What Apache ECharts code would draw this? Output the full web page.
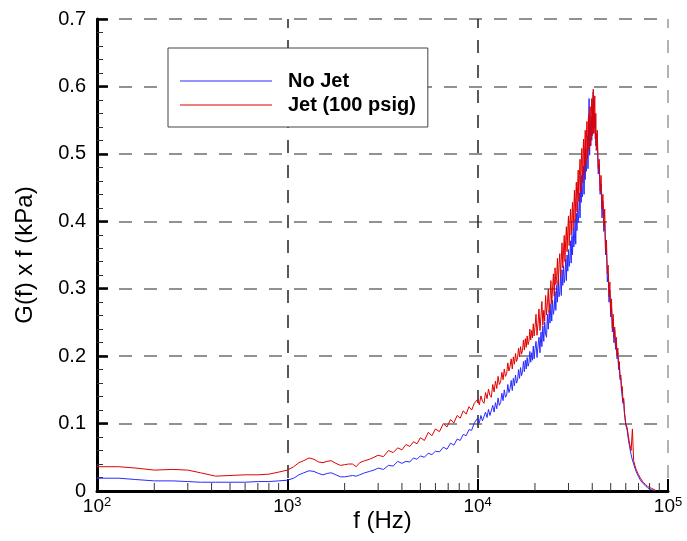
<!DOCTYPE html>
<html>
<head>
<meta charset="utf-8">
<script src="https://cdn.jsdelivr.net/npm/echarts@6/dist/echarts.min.js"></script>
<style>
  html, body { margin: 0; padding: 0; background: #ffffff; }
  #chart { width: 687px; height: 541px; }
</style>
</head>
<body>
<div id="chart"></div>
<script>
// Pressure spectrum, premultiplied by frequency: G(f) x f in kPa
const freqHz = [
  100, 130, 160, 200, 250, 300, 350, 420, 500, 600, 700, 800, 900, 1000,
  1080, 1150, 1220, 1300, 1380, 1460, 1540, 1620, 1700, 1800, 1900, 2000, 2100, 2200, 2300, 2400, 2550, 2700, 2850,
  3000, 3200, 3400, 3600, 3800, 4000, 4200, 4400, 4600, 4800, 5000, 5250, 5500, 5750, 6000, 6300, 6600, 6900,
  7200, 7500, 7800, 8100, 8400, 8700, 9000, 9300, 9600,
  10000, 10200, 10400, 10600, 10800, 11000, 11200, 11400, 11600, 11800, 12000, 12200, 12400, 12600, 12800,
  13000, 13200, 13400, 13600, 13800, 14000, 14200, 14400, 14600, 14800, 15000, 15200, 15400, 15600, 15800,
  16000, 16200, 16400, 16600, 16800, 17000, 17200, 17400, 17600, 17800, 18000, 18200, 18400, 18600, 18800,
  19000, 19200, 19400, 19600, 19800, 20000,
  20250, 20500, 20750, 21000, 21250, 21500, 21750, 22000, 22250, 22500, 22750, 23000,
  23250, 23500, 23750, 24000, 24250, 24500, 24750, 25000, 25250, 25500, 25750, 26000,
  26250, 26500, 26750, 27000, 27250, 27500, 27750, 28000, 28250, 28500, 28750, 29000,
  29250, 29500, 29750, 30000, 30250, 30500, 30750, 31000, 31250, 31500, 31750, 32000,
  32250, 32500, 32750, 33000, 33250, 33500, 33750, 34000, 34250, 34500, 34750, 35000,
  35250, 35500, 35750, 36000, 36250, 36500, 36750, 37000, 37250, 37500, 37750, 38000,
  38250, 38500, 38750, 39000, 39250, 39500, 39750, 40000, 40250, 40500, 40750, 41000,
  41250, 41500, 41750, 42000,
  42500, 43000, 43500, 44000, 44500, 45000, 45500, 46000, 46500, 47000, 47500, 48000, 48500, 49000, 49500,
  50000, 50500, 51000, 51500, 52000, 52500, 53000, 53500, 54000, 54500, 55000, 55500, 56000, 56500, 57000,
  57500, 58000, 58500, 59000, 59500, 60000,
  61000, 62000, 63000, 64000, 65000, 66000, 67000, 68000, 69000, 70000, 72000, 74000, 76000, 78000, 80000,
  82000, 84000, 86000
];

const noJet = [
  .019, .019, .017, .015, .015, .014, .013, .013, .013, .013, .014, .014, .015, .016,
  .019, .024, .027, .030, .029, .026, .024, .026, .027, .024, .021, .021, .022, .023, .022, .024, .027, .029, .031,
  .034, .032, .038, .037, .044, .041, .044, .043, .049, .047, .052, .050, .056, .054, .059, .058, .065, .062,
  .071, .068, .077, .075, .084, .082, .091, .090, .101,
  .108, .101, .112, .104, .103, .117, .109, .121, .112, .110, .127, .117, .131, .122, .138,
  .127, .131, .145, .134, .150, .139, .142, .158, .146, .152, .164, .149, .167, .156, .172,
  .160, .164, .180, .167, .183, .171, .176, .192, .177, .194, .181, .198, .185, .190, .207,
  .191, .205, .194, .215, .196, .210,
  .222, .198, .215, .228, .205, .236, .214, .245, .222, .251, .233, .228,
  .262, .240, .268, .249, .278, .252, .283, .262, .270, .296, .268, .305,
  .280, .312, .288, .296, .322, .290, .328, .305, .334, .309, .318, .344,
  .312, .350, .326, .358, .333, .342, .371, .338, .378, .350, .389, .362,
  .374, .403, .366, .412, .386, .428, .398, .410, .442, .405, .455, .428,
  .468, .436, .446, .482, .440, .495, .462, .508, .474, .488, .526, .478,
  .540, .582, .498, .535, .512, .556, .520, .548, .575, .592, .530, .560,
  .538, .548, .512, .530,
  .520, .470, .485, .440, .455, .405, .430, .385, .400, .350, .360, .310, .322, .280, .298,
  .258, .272, .236, .255, .220, .238, .210, .220, .196, .205, .180, .188, .165, .168, .148,
  .150, .130, .134, .116, .116, .098,
  .090, .075, .064, .054, .046, .040, .034, .029, .025, .021, .015, .011, .008, .005, .003,
  .002, .001, 0
];

const jet100 = [
  .036, .036, .034, .031, .032, .031, .027, .022, .023, .024, .024, .025, .028, .031,
  .036, .042, .045, .049, .047, .043, .042, .044, .045, .041, .038, .039, .040, .040, .036, .042, .045, .047, .050,
  .053, .051, .060, .057, .064, .061, .069, .066, .073, .070, .079, .075, .087, .082, .092, .088, .100, .095,
  .106, .101, .112, .108, .119, .114, .125, .120, .130,
  .136, .128, .141, .133, .130, .146, .137, .151, .142, .139, .158, .147, .163, .152, .170,
  .158, .162, .176, .165, .181, .170, .174, .190, .178, .185, .196, .181, .199, .188, .204,
  .192, .197, .212, .199, .214, .203, .208, .224, .209, .226, .213, .230, .217, .222, .240,
  .224, .238, .227, .248, .230, .242,
  .262, .231, .248, .270, .238, .259, .281, .246, .268, .252, .290, .261,
  .279, .299, .265, .286, .312, .278, .301, .322, .289, .331, .306, .318,
  .345, .305, .336, .352, .318, .344, .368, .331, .356, .379, .340, .372,
  .392, .355, .387, .408, .364, .396, .418, .379, .404, .428, .388, .421,
  .446, .400, .437, .458, .414, .452, .476, .429, .468, .492, .443, .483,
  .508, .457, .498, .522, .470, .512, .535, .484, .523, .548, .493, .536,
  .558, .505, .548, .570, .512, .556, .582, .527, .574, .596, .531, .565,
  .586, .522, .560, .505,
  .535, .478, .492, .445, .468, .418, .440, .392, .418, .355, .372, .322, .335, .288, .310,
  .262, .285, .242, .262, .228, .243, .215, .228, .200, .212, .185, .192, .168, .172, .150,
  .155, .133, .138, .118, .120, .100,
  .094, .080, .069, .060, .092, .045, .038, .032, .028, .024, .018, .013, .010, .007, .005,
  .004, .002, .001
];

const seriesNames = ['No Jet', 'Jet (100 psig)'];
const seriesColors = ['#2a2aff', '#e00000'];

// Minor tick positions on the logarithmic frequency axis
const xMinorTicks = [
  200, 300, 400, 500, 600, 700, 800, 900,
  2000, 3000, 4000, 5000, 6000, 7000, 8000, 9000,
  20000, 30000, 40000, 50000, 60000, 70000, 80000, 90000
];

const FONT = 'Arial, "Liberation Sans", Helvetica, sans-serif';

const toPairs = (ys) => ys.map((v, i) => [freqHz[i], v]);

const chart = echarts.init(document.getElementById('chart'), null, { renderer: 'canvas' });

chart.setOption({
  animation: false,
  backgroundColor: '#ffffff',
  grid: { left: 97, right: 19, top: 19, bottom: 50, containLabel: false, outerBoundsMode: 'none' },
  legend: {
    data: seriesNames,
    orient: 'vertical',
    left: 168,
    top: 48,
    padding: [22, 12, 11, 12],
    itemGap: 2,
    icon: 'rect',
    itemWidth: 92,
    itemHeight: 1,
    borderColor: '#444',
    borderWidth: 1,
    backgroundColor: '#ffffff',
    textStyle: {
      fontFamily: FONT,
      fontSize: 20,
      fontWeight: 'bold',
      color: '#000',
      lineHeight: 22,
      padding: [0, 0, 0, 11]
    }
  },
  xAxis: {
    type: 'log',
    logBase: 10,
    min: 100,
    max: 100000,
    name: 'f (Hz)',
    nameLocation: 'middle',
    nameGap: 18,
    nameMoveOverlap: false,
    nameTextStyle: { fontFamily: FONT, fontSize: 24, color: '#000', verticalAlign: 'top' },
    axisLine: { show: true, onZero: false, lineStyle: { color: '#000', width: 3 } },
    axisTick: { show: true, inside: true, length: 12, lineStyle: { color: '#000', width: 2 } },
    axisLabel: {
      margin: 5,
      formatter: (v) => '{b|10}{e|' + Math.round(Math.log10(v)) + '}',
      rich: {
        b: { fontFamily: FONT, fontSize: 19, color: '#000', lineHeight: 22 },
        e: { fontFamily: FONT, fontSize: 13, color: '#000', lineHeight: 8, verticalAlign: 'top' }
      }
    },
    splitLine: {
      show: true,
      lineStyle: { color: ['#222', '#222', '#222', '#999'], width: 1.5, type: [13, 12], dashOffset: 4 }
    }
  },
  yAxis: {
    type: 'value',
    min: 0,
    max: 0.7,
    interval: 0.1,
    name: 'G(f) x f (kPa)',
    nameLocation: 'middle',
    nameGap: 60,
    nameTextStyle: { fontFamily: FONT, fontSize: 24, color: '#000' },
    axisLine: { show: true, lineStyle: { color: '#000', width: 3 } },
    axisTick: { show: true, inside: true, length: 11, lineStyle: { color: '#000', width: 2.5 } },
    minorTick: { show: true, splitNumber: 5, length: 6, lineStyle: { color: '#333', width: 1 } },
    axisLabel: {
      margin: 11,
      fontFamily: FONT,
      fontSize: 20,
      color: '#000',
      formatter: (v) => (v === 0 ? '0' : v.toFixed(1))
    },
    splitLine: {
      show: true,
      lineStyle: { color: '#6e6e6e', width: 1.5, type: [13, 12], dashOffset: 3 }
    }
  },
  series: [
    {
      name: seriesNames[0],
      type: 'line',
      data: toPairs(noJet),
      symbol: 'none',
      showSymbol: false,
      lineStyle: { color: seriesColors[0], width: 1 },
      itemStyle: { color: seriesColors[0] },
      z: 3
    },
    {
      name: seriesNames[1],
      type: 'line',
      data: toPairs(jet100),
      symbol: 'none',
      showSymbol: false,
      lineStyle: { color: seriesColors[1], width: 1 },
      itemStyle: { color: seriesColors[1] },
      z: 4
    },
    {
      // short inward minor ticks on the frequency axis
      type: 'custom',
      silent: true,
      z: 5,
      clip: false,
      data: xMinorTicks.map((v) => [v, 0]),
      renderItem: (params, api) => {
        const p = api.coord([api.value(0), 0]);
        return {
          type: 'line',
          shape: { x1: p[0], y1: p[1], x2: p[0], y2: p[1] - 8 },
          style: { stroke: '#333', lineWidth: 1 }
        };
      }
    }
  ]
});
</script>
</body>
</html>
